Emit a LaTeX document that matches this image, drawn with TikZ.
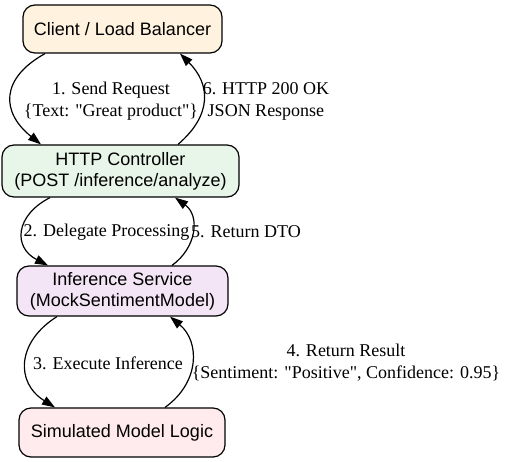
\documentclass[tikz,border=0pt]{standalone}
\usepackage{fontspec}
\newfontfamily\lblfont{Liberation Serif}
\newfontfamily\nodefont{Liberation Sans}
\usetikzlibrary{arrows.meta}
\definecolor{cClient}{HTML}{FFF3E0}
\definecolor{cHttp}{HTML}{E8F5E9}
\definecolor{cInf}{HTML}{F3E5F5}
\definecolor{cSim}{HTML}{FFEBEE}
\begin{document}
\begin{tikzpicture}[x=1pt,y=-1pt,
  box/.style={draw=black, line width=1.2pt, rounded corners=12pt, inner sep=0pt, align=center, font=\nodefont\fontsize{18}{21}\selectfont},
  lbl/.style={inner sep=0pt, align=center, font=\lblfont\fontsize{18}{22}\selectfont},
  flow/.style={line width=1.2pt, -{Triangle[length=13pt,width=9pt]}}]
\useasboundingbox (0,0) rectangle (507,462);
\node[box, fill=cClient, minimum width=199pt, minimum height=48pt] (client) at (122.5,29) {Client / Load Balancer};
\node[box, fill=cHttp, minimum width=237pt, minimum height=52pt] (http) at (120.5,171) {HTTP Controller\\(POST /inference/analyze)};
\node[box, fill=cInf, minimum width=211pt, minimum height=50pt] (inf) at (122.5,291) {Inference Service\\(MockSentimentModel)};
\node[box, fill=cSim, minimum width=206pt, minimum height=49pt] (sim) at (122,432.5) {Simulated Model Logic};

\draw[flow] ([xshift=-77.5pt]client.south) .. controls +(-45,25) and +(-40,-32) .. ([xshift=-79.5pt]http.north);
\draw[flow] ([xshift=57.5pt]http.north) .. controls +(35,-30) and +(30,30) .. ([xshift=57.5pt]client.south);
\draw[flow] ([xshift=-70.5pt]http.south) .. controls +(-35,18) and +(-35,-18) .. ([xshift=-74.5pt]inf.north);
\draw[flow] ([xshift=49.5pt]inf.north) .. controls +(25,-18) and +(25,18) .. ([xshift=54.5pt]http.south);
\draw[flow] ([xshift=-65.5pt]inf.south) .. controls +(-40,25) and +(-40,-25) .. ([xshift=-67pt]sim.north);
\draw[flow] ([xshift=43pt]sim.north) .. controls +(35,-25) and +(30,25) .. ([xshift=47.5pt]inf.south);

\node[lbl] (l1) at (111,101) {1. Send Request\\\{Text: "Great product"\}};
\node[lbl] (l6) at (266,101) {6. HTTP 200 OK\\JSON Response};
\node[lbl] (l2) at (106.5,232) {2. Delegate Processing};
\node[lbl] (l5) at (246,232) {5. Return DTO};
\node[lbl] (l3) at (108,363) {3. Execute Inference};
\node[lbl] (l4) at (346,363) {4. Return Result\\\{Sentiment: "Positive", Confidence: 0.95\}};
\end{tikzpicture}
\end{document}
